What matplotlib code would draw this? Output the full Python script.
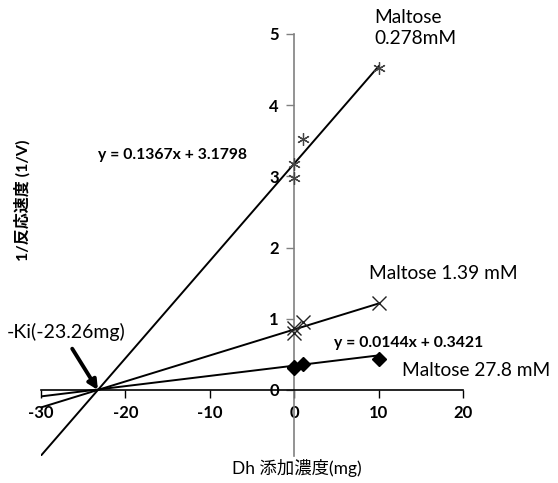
import numpy as np
import matplotlib
matplotlib.use("Agg")
import matplotlib.pyplot as plt

plt.rcParams['font.family'] = ['Lato', 'Noto Sans CJK JP', 'DejaVu Sans']
plt.rcParams['axes.unicode_minus'] = False

# data
x_low = [0, 0, 1, 10]            # Maltose 0.278 mM
y_low = [3.18, 2.98, 3.52, 4.52]
x_mid = [0, 0, 1, 10]            # Maltose 1.39 mM
y_mid = [0.87, 0.80, 0.95, 1.22]
x_high = [0, 0, 1, 10]           # Maltose 27.8 mM
y_high = [0.31, 0.33, 0.36, 0.44]

fit_low = (0.1367, 3.1798)
fit_mid = (0.0365, 0.85)
fit_high = (0.0144, 0.3421)
fit_range = (-30, 10)

xticks = [-30, -20, -10, 0, 10, 20]
yticks = [0, 1, 2, 3, 4, 5]

fig = plt.figure(figsize=(5.58, 4.83), dpi=100)
ax = fig.add_axes([41/558, 1-455.5/483, (463-41)/558, (455.5-34)/483])
ax.set_xlim(-30, 20)
ax.set_ylim(-0.92, 5)

xs = np.array(fit_range)
for (m, b) in (fit_low, fit_mid, fit_high):
    ax.plot(xs, m*xs + b, color='black', lw=1.4, zorder=3)

ax.plot(x_low, y_low, linestyle='none', marker=(6, 2, 0), ms=9, mew=0.9,
        color='#444444', zorder=4)
ax.plot(x_mid, y_mid, linestyle='none', marker='x', ms=10, mew=1.0,
        color='#222222', zorder=4)
ax.plot(x_high, y_high, linestyle='none', marker='D', ms=7.5, color='black', zorder=4)

for s in ('top', 'right'):
    ax.spines[s].set_visible(False)
ax.spines['left'].set_position(('data', 0))
ax.spines['bottom'].set_position(('data', 0))
ax.spines['left'].set_color('#808080')
ax.spines['bottom'].set_color('black')
ax.spines['left'].set_linewidth(1.2)
ax.spines['bottom'].set_linewidth(1.2)

ax.set_xticks(xticks)
ax.set_yticks(yticks)
ax.tick_params(axis='x', direction='out', length=6, width=1, colors='black',
               labelsize=12, pad=5)
ax.tick_params(axis='y', direction='out', length=6, width=1, color='#808080',
               labelcolor='black', labelsize=12, pad=5)
for lab in ax.get_xticklabels() + ax.get_yticklabels():
    lab.set_fontweight('bold')

ax.text(9.5, 5.35, 'Maltose\n0.278mM', fontsize=13.8, ha='left', va='top',
        linespacing=1.25)
ax.text(8.9, 1.64, 'Maltose 1.39 mM', fontsize=13.8, ha='left', va='center')
ax.text(12.8, 0.28, 'Maltose 27.8 mM', fontsize=13.8, ha='left', va='center')
ax.text(-23.3, 3.30, 'y = 0.1367x + 3.1798', fontsize=11.3, fontweight='bold',
        ha='left', va='center')
ax.text(4.7, 0.66, 'y = 0.0144x + 0.3421', fontsize=11.3, fontweight='bold',
        ha='left', va='center')

ax.annotate('', xy=(-23.26, 0.0), xytext=(-26.3, 0.58),
            arrowprops=dict(arrowstyle='-|>', lw=2.8, color='black',
                            mutation_scale=14, shrinkA=0, shrinkB=0),
            annotation_clip=False, zorder=5)
ax.text(-34.0, 0.81, '-Ki(-23.26mg)', fontsize=14, ha='left', va='center',
        clip_on=False)

fig.text(297/558, 1-468/483, 'Dh 添加濃度(mg)', fontsize=12.5, ha='center', va='center')
fig.text(22/558, 1-200/483, '1/反応速度 (1/V)', fontsize=11.5, fontweight='bold',
         rotation=90, ha='center', va='center')

fig.savefig('out.png', dpi=100)
